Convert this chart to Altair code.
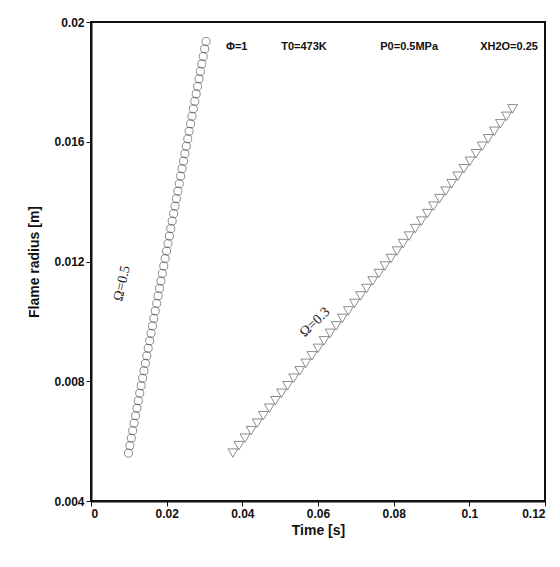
import altair as alt
import pandas as pd

# flame radius [m], shared sampling for both series
radius = [0.00560, 0.00585, 0.00610, 0.00635, 0.00660, 0.00685, 0.00710, 0.00735,
          0.00760, 0.00785, 0.00810, 0.00835, 0.00860, 0.00885, 0.00910, 0.00935,
          0.00960, 0.00985, 0.01010, 0.01035, 0.01060, 0.01085, 0.01110, 0.01135,
          0.01160, 0.01185, 0.01210, 0.01235, 0.01260, 0.01285, 0.01310, 0.01335,
          0.01360, 0.01385, 0.01410, 0.01435, 0.01460, 0.01485, 0.01510, 0.01535,
          0.01560, 0.01585, 0.01610, 0.01635, 0.01660, 0.01685, 0.01710, 0.01735,
          0.01760, 0.01785, 0.01810, 0.01835, 0.01860, 0.01885, 0.01910, 0.01935]

# time [s], Omega = 0.5
time_05 = [0.00990, 0.01027, 0.01065, 0.01102, 0.01139, 0.01177, 0.01214, 0.01251,
           0.01288, 0.01326, 0.01363, 0.01400, 0.01438, 0.01475, 0.01512, 0.01550,
           0.01587, 0.01624, 0.01661, 0.01699, 0.01736, 0.01773, 0.01811, 0.01848,
           0.01885, 0.01923, 0.01960, 0.01997, 0.02034, 0.02072, 0.02109, 0.02146,
           0.02184, 0.02221, 0.02258, 0.02296, 0.02333, 0.02370, 0.02407, 0.02445,
           0.02482, 0.02519, 0.02557, 0.02594, 0.02631, 0.02669, 0.02706, 0.02743,
           0.02780, 0.02818, 0.02855, 0.02892, 0.02930, 0.02967, 0.03004, 0.03042]

# time [s], Omega = 0.3
time_03 = [0.03750, 0.03911, 0.04071, 0.04232, 0.04393, 0.04554, 0.04714, 0.04875,
           0.05036, 0.05196, 0.05357, 0.05518, 0.05678, 0.05839, 0.06000, 0.06161,
           0.06321, 0.06482, 0.06643, 0.06803, 0.06964, 0.07125, 0.07285, 0.07446,
           0.07607, 0.07768, 0.07928, 0.08089, 0.08250, 0.08410, 0.08571, 0.08732,
           0.08892, 0.09053, 0.09214, 0.09375, 0.09535, 0.09696, 0.09857, 0.10017,
           0.10178, 0.10339, 0.10499, 0.10660, 0.10821, 0.10982, 0.11142]

header = ["Φ=1", "T0=473K", "P0=0.5MPa", "XH2O=0.25"]
header_x = [0.0385, 0.0563, 0.0841, 0.1105]

df05 = pd.DataFrame({"t": time_05, "r": radius[:len(time_05)]})
df03 = pd.DataFrame({"t": time_03, "r": radius[:len(time_03)]})
hdr = pd.DataFrame({"t": header_x, "r": [0.01917] * 4, "txt": header})

font = "Liberation Sans"
xs = alt.X("t:Q", scale=alt.Scale(domain=[0, 0.12], nice=False),
           axis=alt.Axis(values=[0, 0.02, 0.04, 0.06, 0.08, 0.1, 0.12], format="~g",
                         title="Time [s]", grid=False))
ys = alt.Y("r:Q", scale=alt.Scale(domain=[0.004, 0.02], nice=False, zero=False),
           axis=alt.Axis(values=[0.004, 0.008, 0.012, 0.016, 0.02], format="~g",
                         title="Flame radius [m]", grid=False))

circ = alt.Chart(df05).mark_point(shape="circle", filled=False, size=65,
                                  color="#333", strokeWidth=0.8).encode(x=xs, y=ys)
tri = alt.Chart(df03).mark_point(shape="triangle-down", filled=False, size=95,
                                 color="#333", strokeWidth=0.8).encode(x="t:Q", y="r:Q")

lab05 = alt.Chart(pd.DataFrame({"t": [0.0082], "r": [0.01127], "txt": ["Ω=0.5"]})).mark_text(
    angle=283, fontSize=14, font="Liberation Serif", color="#222").encode(x="t:Q", y="r:Q", text="txt:N")
lab03 = alt.Chart(pd.DataFrame({"t": [0.0592], "r": [0.00997], "txt": ["Ω=0.3"]})).mark_text(
    angle=316, fontSize=14, font="Liberation Serif", color="#222").encode(x="t:Q", y="r:Q", text="txt:N")
htxt = alt.Chart(hdr).mark_text(fontSize=11, fontWeight="bold", font=font, color="#111").encode(
    x="t:Q", y="r:Q", text="txt:N")

chart = alt.layer(circ, tri, lab05, lab03, htxt).properties(
    width=454, height=479,
    autosize=alt.AutoSizeParams(type="none"),
    padding={"left": 83, "top": 14, "right": 7, "bottom": 58},
).configure_view(stroke="#111", strokeWidth=2).configure_axis(
    labelFont=font, titleFont=font, labelFontSize=12, titleFontSize=14,
    labelFontWeight="bold", titleFontWeight="bold", labelColor="#111", titleColor="#111",
    domainColor="#111", tickColor="#111", domainWidth=2, tickSize=5,
).configure_axisY(titlePadding=12).configure_axisX(titlePadding=4)

chart.save("out.html", embed_options={"renderer": "svg", "actions": False})
